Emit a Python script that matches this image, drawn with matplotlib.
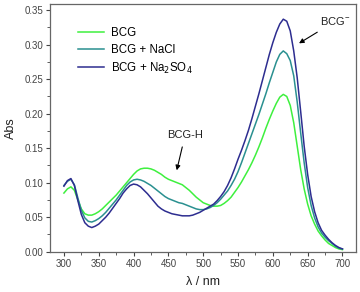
import matplotlib
matplotlib.use("Agg")
import matplotlib.pyplot as plt
from matplotlib.ticker import MultipleLocator, FormatStrFormatter

plt.rcParams['font.family'] = ['Liberation Sans', 'DejaVu Sans']

wavelength = list(range(300, 701, 5))

bcg = [0.085, 0.091, 0.094, 0.089, 0.075, 0.062, 0.055, 0.053, 0.053, 0.055,
       0.058, 0.062, 0.067, 0.072, 0.077, 0.082, 0.088, 0.094, 0.100, 0.106,
       0.112, 0.117, 0.120, 0.121, 0.121, 0.120, 0.118, 0.115, 0.112, 0.108,
       0.105, 0.103, 0.101, 0.099, 0.097, 0.093, 0.089, 0.084, 0.079, 0.075,
       0.071, 0.069, 0.067, 0.066, 0.066, 0.067, 0.070, 0.074, 0.079, 0.086,
       0.093, 0.101, 0.110, 0.119, 0.129, 0.140, 0.152, 0.165, 0.179, 0.192,
       0.204, 0.215, 0.224, 0.228, 0.225, 0.212, 0.187, 0.153, 0.119, 0.091,
       0.069, 0.052, 0.040, 0.030, 0.023, 0.017, 0.012, 0.009, 0.006, 0.004,
       0.003]

bcg_nacl = [0.096, 0.102, 0.105, 0.097, 0.078, 0.060, 0.049, 0.044, 0.043, 0.045,
            0.048, 0.052, 0.057, 0.063, 0.069, 0.075, 0.082, 0.089, 0.096, 0.101,
            0.104, 0.105, 0.104, 0.102, 0.099, 0.096, 0.092, 0.088, 0.084, 0.080,
            0.077, 0.075, 0.073, 0.071, 0.070, 0.068, 0.066, 0.064, 0.062, 0.061,
            0.061, 0.062, 0.064, 0.067, 0.071, 0.076, 0.082, 0.088, 0.096, 0.105,
            0.116, 0.129, 0.143, 0.157, 0.171, 0.185, 0.199, 0.214, 0.229, 0.245,
            0.260, 0.275, 0.286, 0.291, 0.287, 0.277, 0.255, 0.217, 0.172, 0.129,
            0.093, 0.067, 0.049, 0.036, 0.027, 0.021, 0.016, 0.012, 0.008, 0.005,
            0.004]

bcg_na2so4 = [0.095, 0.103, 0.106, 0.096, 0.074, 0.054, 0.042, 0.037, 0.035, 0.037,
              0.040, 0.045, 0.050, 0.056, 0.063, 0.070, 0.077, 0.085, 0.091, 0.096,
              0.098, 0.097, 0.094, 0.089, 0.084, 0.078, 0.072, 0.066, 0.062, 0.059,
              0.057, 0.055, 0.054, 0.053, 0.052, 0.052, 0.052, 0.053, 0.055, 0.057,
              0.060, 0.063, 0.066, 0.069, 0.074, 0.080, 0.087, 0.096, 0.107, 0.120,
              0.134, 0.147, 0.161, 0.176, 0.193, 0.211, 0.229, 0.248, 0.267, 0.286,
              0.303, 0.318, 0.330, 0.337, 0.334, 0.320, 0.291, 0.252, 0.203, 0.153,
              0.112, 0.080, 0.058, 0.042, 0.031, 0.024, 0.018, 0.013, 0.009, 0.006,
              0.004]

labels = ['BCG', 'BCG + NaCl', 'BCG + Na$_2$SO$_4$']
colors = ['#3ef03e', '#2a9090', '#2d2d90']

fig = plt.figure(figsize=(3.6, 2.92), dpi=100)
ax = fig.add_axes([50/360, 1-251.7/292, (355.7-50)/360, (251.7-4)/292])

for y, lab, c in zip([bcg, bcg_nacl, bcg_na2so4], labels, colors):
    ax.plot(wavelength, y, color=c, lw=1.1, label=lab)

ax.set_xlim(280, 719)
ax.set_ylim(0, 0.359)
ax.xaxis.set_major_locator(MultipleLocator(50))
ax.xaxis.set_minor_locator(MultipleLocator(25))
ax.yaxis.set_major_locator(MultipleLocator(0.05))
ax.yaxis.set_minor_locator(MultipleLocator(0.025))
ax.yaxis.set_major_formatter(FormatStrFormatter('%.2f'))
ax.tick_params(which='major', direction='out', length=3, width=0.8,
               labelsize=7, colors='#444444', pad=2)
ax.tick_params(which='minor', direction='out', length=2, width=0.6, colors='#444444')
for s in ax.spines.values():
    s.set_color('#666666')
    s.set_linewidth(0.9)

ax.set_xlabel('λ / nm', fontsize=9, color='#222222', labelpad=5)
ax.set_ylabel('Abs', fontsize=9, color='#222222', labelpad=5)

leg = ax.legend(loc='upper left', bbox_to_anchor=(0.075, 0.925), frameon=False,
                fontsize=8.3, handlelength=2.3, handletextpad=0.6, labelspacing=0.4,
                borderaxespad=0)

ax.annotate('BCG$^{\\mathregular{-}}$', xy=(637.6, 0.302), xytext=(667.8, 0.334),
            fontsize=8, color='#222222', va='center', ha='left',
            arrowprops=dict(arrowstyle='-|>', color='black', lw=0.8,
                            mutation_scale=7, shrinkA=3, shrinkB=0))
ax.annotate('BCG-H', xy=(462, 0.118), xytext=(474, 0.169),
            fontsize=8, color='#222222', va='center', ha='center',
            arrowprops=dict(arrowstyle='-|>', color='black', lw=0.8,
                            mutation_scale=7, shrinkA=3, shrinkB=0))

fig.savefig('out.png', dpi=100)
